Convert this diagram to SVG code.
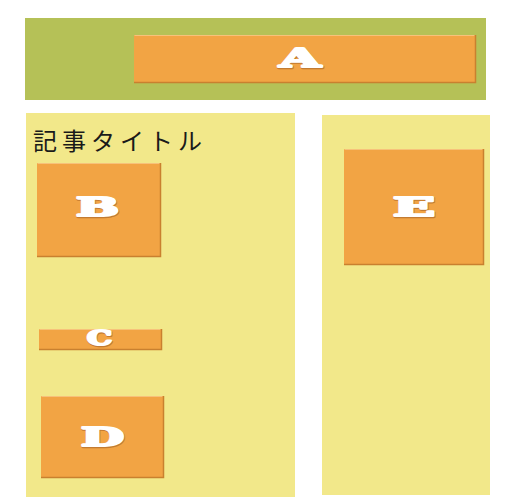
<svg xmlns="http://www.w3.org/2000/svg" width="510" height="500" viewBox="0 0 510 500">
<style>
.box{fill:#f2a444;}
.edge{fill:none;stroke:#c9802f;stroke-width:1.5;}
.hl{fill:none;stroke:#f7c27a;stroke-width:1;}
.lbl{font-family:"DejaVu Serif",serif;font-weight:bold;font-size:26px;fill:#ffffff;stroke:#ffffff;stroke-width:2.2;stroke-linejoin:round;text-anchor:middle;}
.sh{font-family:"DejaVu Serif",serif;font-weight:bold;font-size:26px;fill:#b06a2a;stroke:#b06a2a;stroke-width:2.6;stroke-linejoin:round;text-anchor:middle;opacity:0.7;}
.title{font-family:"Noto Sans CJK JP",sans-serif;font-size:24px;fill:#1a1a1a;letter-spacing:5px;}
</style>
<rect x="0" y="0" width="510" height="500" fill="#ffffff"/>
<g id="header"><rect x="25" y="18" width="461" height="82" fill="#b5c157"/></g>
<g id="left-panel"><rect x="26" y="113" width="269" height="384" fill="#f2e88a"/>
<text class="title" x="33" y="150">記事タイトル</text></g>
<g id="right-panel"><rect x="322" y="115" width="168" height="380" fill="#f2e88a"/></g>
<g id="A"><rect class="box" x="134" y="35" width="341" height="48"/>
<path class="hl" d="M134.5 35.5H474.5"/><path class="edge" d="M134 82.5H475.5V35"/>
<text class="sh" x="300.5" y="67.5" textLength="41" lengthAdjust="spacingAndGlyphs">A</text>
<text class="lbl" x="300" y="67" textLength="41" lengthAdjust="spacingAndGlyphs">A</text></g>
<g id="B"><rect class="box" x="37" y="163" width="123" height="94"/>
<path class="hl" d="M37.5 163.5H159.5"/><path class="edge" d="M37 256.5H160.5V163"/>
<text class="sh" x="98" y="216.5" textLength="43" lengthAdjust="spacingAndGlyphs">B</text>
<text class="lbl" x="97.5" y="216" textLength="43" lengthAdjust="spacingAndGlyphs">B</text></g>
<g id="C"><rect class="box" x="39" y="329" width="122" height="21"/>
<path class="hl" d="M39.5 329.5H160.5"/><path class="edge" d="M39 349.5H161.5V329"/>
<text class="sh" x="100" y="345.5" textLength="25" lengthAdjust="spacingAndGlyphs" style="font-size:20px">C</text>
<text class="lbl" x="99.5" y="345" textLength="25" lengthAdjust="spacingAndGlyphs" style="font-size:20px">C</text></g>
<g id="D"><rect class="box" x="41" y="396" width="122" height="82"/>
<path class="hl" d="M41.5 396.5H162.5"/><path class="edge" d="M41 477.5H163.5V396"/>
<text class="sh" x="103" y="446.5" textLength="43" lengthAdjust="spacingAndGlyphs">D</text>
<text class="lbl" x="102.5" y="446" textLength="43" lengthAdjust="spacingAndGlyphs">D</text></g>
<g id="E"><rect class="box" x="344" y="149" width="139" height="116"/>
<path class="hl" d="M344.5 149.5H482.5"/><path class="edge" d="M344 264.5H483.5V149"/>
<text class="sh" x="414.5" y="216.5" textLength="42" lengthAdjust="spacingAndGlyphs">E</text>
<text class="lbl" x="414" y="216" textLength="42" lengthAdjust="spacingAndGlyphs">E</text></g>
<g id="connectors"></g>
</svg>
